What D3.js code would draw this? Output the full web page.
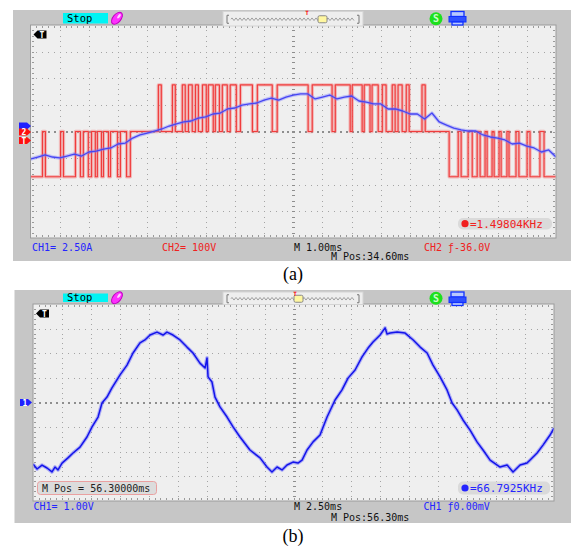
<!DOCTYPE html>
<html>
<head>
<meta charset="utf-8">
<script src="https://cdn.jsdelivr.net/npm/d3@7"></script>
<style>
  body { margin: 0; background: #fff; }
  svg { display: block; }
</style>
</head>
<body>
<script>
// ---------- (a) CH1 current, sampled every 0.25 ms (A) ----------
const aCurT = [0, 0.25, 0.5, 0.75, 1, 1.25, 1.5, 1.75, 2, 2.25, 2.5, 2.75, 3, 3.25, 3.5, 3.75,
  4, 4.25, 4.5, 4.75, 5, 5.25, 5.5, 5.75, 6, 6.25, 6.5, 6.75, 7, 7.25, 7.5, 7.75,
  8, 8.25, 8.5, 8.75, 9, 9.25, 9.5, 9.75, 10, 10.25, 10.5, 10.75, 11, 11.25, 11.5, 11.75,
  12, 12.25, 12.5, 12.75, 13, 13.25, 13.5, 13.75, 14, 14.25, 14.5, 14.75, 15, 15.25, 15.5, 15.75,
  16, 16.25, 16.5, 16.75, 17, 17.25, 17.5, 17.75, 18];
const aCurA = [-2.96, -2.77, -2.58, -2.77, -2.86, -2.68, -2.49, -2.68, -2.30, -2.21, -2.02, -1.92, -1.55, -1.46, -0.99, -0.70,
  -0.52, -0.33, -0.14, 0.14, 0.33, 0.52, 0.61, 0.89, 0.99, 1.27, 1.36, 1.74, 1.83, 2.11, 2.21, 2.30,
  2.58, 2.77, 2.58, 2.86, 3.05, 3.15, 3.15, 2.68, 2.86, 3.05, 2.68, 2.86, 2.96, 2.49, 2.39, 2.21,
  2.21, 1.74, 1.74, 1.55, 1.27, 1.27, 0.80, 1.36, 0.52, 0.23, -0.05, -0.23, -0.33, -0.33, -0.70, -0.89,
  -0.99, -1.17, -1.55, -1.46, -1.74, -1.92, -2.30, -2.11, -2.77];

// ---------- (a) CH2 PWM voltage: switching instants (ms) and level after each (V) ----------
const aVoltT = [0, 0.41, 0.51, 1.03, 1.13, 1.54, 1.71, 1.81, 1.98, 2.09, 2.22, 2.29, 2.43, 2.50, 2.67, 2.74, 2.98, 3.08, 3.29, 3.42,
  4.38, 4.48, 4.86, 4.96, 5.20, 5.30, 5.41, 5.54, 5.65, 5.75, 5.89, 6.02, 6.09, 6.26, 6.33, 6.47, 6.57, 6.74, 6.84, 7.05,
  7.19, 7.60, 7.77, 8.28, 8.45, 9.51, 9.65, 10.33, 10.44, 10.95, 11.02, 11.36, 11.43, 11.63, 11.70, 11.91, 12.05, 12.18,
  12.39, 12.49, 12.59, 12.73, 12.87, 12.97, 13.41, 13.52,
  14.34, 14.65, 14.75, 14.99, 15.13, 15.30, 15.40, 15.57, 15.64, 15.81, 15.88, 16.05, 16.12, 16.32, 16.39, 16.63, 16.73,
  17.01, 17.11, 17.45, 17.59, 18];
const aVoltV = [-170, 0, -170, 0, -170, 0, -170, 0, -170, 0, -170, 0, -170, 0, -170, 0, -170, 0, -170, 0,
  175, 0, 175, 0, 175, 0, 175, 0, 175, 0, 175, 0, 175, 0, 175, 0, 175, 0, 175, 0,
  175, 0, 175, 0, 175, 0, 175, 0, 175, 0, 175, 0, 175, 0, 175, 0, 175, 0,
  175, 0, 175, 0, 175, 0, 175, 0,
  -170, 0, -170, 0, -170, 0, -170, 0, -170, 0, -170, 0, -170, 0, -170, 0, -170,
  0, -170, 0, -170, -170];

// ---------- (b) CH1 voltage (ms, V) ----------
const bT = [0, 0.35, 0.78, 1.21, 1.64, 1.90, 2.16, 2.51, 3.02, 3.46, 4.06, 4.66, 5.10, 5.62, 5.96, 6.39, 6.82, 7.52,
  8.12, 8.64, 9.24, 9.67, 10.11, 10.71, 11.23, 11.57, 12.09, 12.70, 13.30, 13.82, 14.42, 14.86, 15.03, 15.12, 15.46,
  15.72, 16.15, 16.76, 17.28, 17.88, 18.74, 19.61, 20.21, 20.64, 21.08, 21.51, 21.94, 22.46, 22.89, 23.24, 23.67,
  24.19, 24.79, 25.40, 26.09, 26.69, 27.21, 27.82, 28.42, 28.94, 29.37, 29.98, 30.41, 30.58, 30.84, 31.45, 32.14,
  32.84, 33.44, 34.04, 34.55, 35.16, 35.76, 36.20, 36.63, 37.14, 37.75, 38.35, 38.87, 39.48, 40.34, 40.95, 41.46,
  42.07, 42.67, 43.54, 44.05, 44.66, 45.00];
const bV = [-2.50, -2.70, -2.54, -2.66, -2.82, -2.62, -2.74, -2.46, -2.25, -2.05, -1.81, -1.40, -0.99, -0.59, -0.02, 0.22, 0.59, 1.12,
  1.52, 2.01, 2.42, 2.54, 2.74, 2.86, 2.74, 2.86, 2.74, 2.54, 2.25, 2.01, 1.60, 1.40, 1.81, 1.04, 0.83,
  0.22, -0.18, -0.59, -0.99, -1.40, -1.93, -2.25, -2.62, -2.82, -2.62, -2.74, -2.54, -2.42, -2.46, -2.34, -1.93,
  -1.60, -1.32, -0.59, 0.10, 0.51, 0.99, 1.32, 1.85, 2.21, 2.46, 2.74, 3.03, 2.78, 2.82, 2.86, 2.82,
  2.54, 2.25, 2.01, 1.52, 1.04, 0.51, -0.02, -0.30, -0.71, -1.12, -1.60, -1.93, -2.34, -2.62, -2.54, -2.82,
  -2.54, -2.46, -2.05, -1.73, -1.32, -1.04];

const W = 571, H = 546;
const MONO = "'DejaVu Sans Mono', monospace";
const BLUE = '#2424ff', RED = '#f02020';

const svg = d3.select('body').append('svg')
  .attr('width', W)
  .attr('height', H)
  .attr('viewBox', `0 0 ${W} ${H}`);

// screen layout for the two captures
const panelA = {id: 'a', gx: 13, gy: 10, gh: 251, x0: 30.5, x1: 556, y0: 25, y1: 238, hy: 11.5, hh: 14.5, trig: 307, knob: 318};
const panelB = {id: 'b', gx: 14.5, gy: 290, gh: 233, x0: 33, x1: 554, y0: 304, y1: 501, hy: 292, hh: 12.5, trig: 295, knob: 294};

// ************** SCREEN (bezel, grid, header) ******************
const drawScreen = (p) => {
  const g = svg.append('g');
  g.append('rect')
    .attr('x', p.gx).attr('y', p.gy)
    .attr('width', W - p.gx).attr('height', p.gh)
    .attr('fill', '#c6c6c6');

  const xs = d3.scaleLinear().domain([0, 18]).range([p.x0, p.x1]);
  const ys = d3.scaleLinear().domain([-4, 4]).range([p.y1, p.y0]);

  g.append('rect')
    .attr('x', p.x0).attr('y', p.y0)
    .attr('width', p.x1 - p.x0).attr('height', p.y1 - p.y0)
    .attr('fill', '#efefef')
    .attr('stroke', '#9c9c9c');

  const minorX = d3.range(1, 90).map(i => i / 5);
  const minorY = d3.range(1, 40).map(i => i / 5 - 4);

  // dotted grid lines
  let dots = [];
  d3.range(1, 18).filter(i => i !== 9).forEach(i => minorY.forEach(v => dots.push([i, v])));
  d3.range(-3, 4).filter(j => j !== 0).forEach(j => minorX.forEach(u => dots.push([u, j])));
  g.append('g').selectAll('rect').data(dots).join('rect')
    .attr('x', d => Math.round(xs(d[0])))
    .attr('y', d => Math.round(ys(d[1])))
    .attr('width', 1).attr('height', 1)
    .attr('fill', '#a4a4a4');

  // centre cross, heavier ticks
  let cross = minorX.map(u => [u, 0]).concat(minorY.map(v => [9, v]));
  g.append('g').selectAll('rect').data(cross).join('rect')
    .attr('x', d => Math.round(xs(d[0])) - (d[0] === 9 ? 1 : 0))
    .attr('y', d => Math.round(ys(d[1])) - (d[1] === 0 ? 1 : 0))
    .attr('width', d => d[0] === 9 ? 3 : 2)
    .attr('height', d => d[1] === 0 ? 2 : 1)
    .attr('fill', '#8e8e8e');

  // border ticks
  let edge = [];
  minorX.forEach(u => { edge.push([xs(u), p.y0 + 1, 1, 2]); edge.push([xs(u), p.y1 - 3, 1, 2]); });
  minorY.forEach(v => { edge.push([p.x0 + 1, ys(v), 2, 1]); edge.push([p.x1 - 3, ys(v), 2, 1]); });
  g.append('g').selectAll('rect').data(edge).join('rect')
    .attr('x', d => Math.round(d[0])).attr('y', d => Math.round(d[1]))
    .attr('width', d => d[2]).attr('height', d => d[3])
    .attr('fill', '#9a9a9a');

  // header: Stop badge
  g.append('rect')
    .attr('x', 63).attr('y', p.hy + 1.5)
    .attr('width', 45).attr('height', p.hh - 4)
    .attr('fill', '#00f4f4');
  g.append('text')
    .attr('x', 67).attr('y', p.hy + p.hh - 4)
    .attr('font-family', MONO).attr('font-size', 10.5)
    .attr('fill', '#000').text('Stop');
  // pen icon
  g.append('ellipse')
    .attr('cx', 117).attr('cy', p.hy + p.hh / 2 - 0.5)
    .attr('rx', 7).attr('ry', 4)
    .attr('transform', `rotate(-50 117 ${p.hy + p.hh / 2 - 0.5})`)
    .attr('fill', '#ff30ff').attr('stroke', '#c000c0');
  g.append('ellipse')
    .attr('cx', 119).attr('cy', p.hy + p.hh / 2 - 2.5)
    .attr('rx', 2.5).attr('ry', 1.2)
    .attr('transform', `rotate(-50 119 ${p.hy + p.hh / 2 - 2.5})`)
    .attr('fill', '#ffd0ff');

  // timebase strip
  g.append('rect')
    .attr('x', 223).attr('y', p.hy)
    .attr('width', 140).attr('height', p.hh)
    .attr('fill', '#eeeeee').attr('stroke', '#d4d4d4');
  const cy = p.hy + p.hh / 2 + 0.5;
  let wave = `M231,${cy}`;
  for (let x = 231; x < 355; x += 2) wave += `L${x + 1},${cy + ((x - 231) % 4 === 0 ? -1.3 : 1.3)}`;
  g.append('path').attr('d', wave).attr('fill', 'none').attr('stroke', '#8c8c8c').attr('stroke-width', 0.8);
  g.append('path')
    .attr('d', `M229,${cy - 4}h-2v8h2M357,${cy - 4}h2v8h-2`)
    .attr('fill', 'none').attr('stroke', '#777');
  g.append('rect')
    .attr('x', p.knob).attr('y', cy - 3.5)
    .attr('width', 9).attr('height', 7).attr('rx', 1.5)
    .attr('fill', '#fff7a0').attr('stroke', '#888');
  g.append('text')
    .attr('x', p.trig).attr('y', p.hy + 3.5)
    .attr('text-anchor', 'middle')
    .attr('font-family', MONO).attr('font-size', 6).attr('font-weight', 'bold')
    .attr('fill', '#ff0000').text('T');

  // green S and blue printer icons
  g.append('circle')
    .attr('cx', 436).attr('cy', p.hy + p.hh / 2)
    .attr('r', 6.5).attr('fill', '#1ee01e');
  g.append('text')
    .attr('x', 436).attr('y', p.hy + p.hh / 2 + 3.5)
    .attr('text-anchor', 'middle')
    .attr('font-family', MONO).attr('font-size', 10).attr('font-weight', 'bold')
    .attr('fill', '#c8ffc8').text('S');
  g.append('rect').attr('x', 451).attr('y', p.hy).attr('width', 13).attr('height', 5)
    .attr('fill', '#b8c8ff').attr('stroke', '#1030ff').attr('stroke-width', 1.3);
  g.append('rect').attr('x', 449).attr('y', p.hy + 5).attr('width', 17).attr('height', 5.5)
    .attr('fill', '#3050ff').attr('stroke', '#1030ff');
  g.append('rect').attr('x', 452).attr('y', p.hy + 10.5).attr('width', 11).attr('height', 3)
    .attr('fill', '#b8c8ff').attr('stroke', '#1030ff').attr('stroke-width', 1.3);

  // trigger-position flag, top left inside grid
  const ty = p.y0 + 9.5, tx = p.x0 + 3;
  g.append('path')
    .attr('d', `M${tx + 13},${ty - 4}L${tx + 4},${ty - 4}L${tx},${ty}L${tx + 4},${ty + 4}L${tx + 13},${ty + 4}Z`)
    .attr('fill', '#000');
  g.append('text')
    .attr('x', tx + 8.5).attr('y', ty + 3)
    .attr('text-anchor', 'middle')
    .attr('font-family', MONO).attr('font-size', 8).attr('font-weight', 'bold')
    .attr('fill', '#fff').text('T');

  // clip for traces
  svg.append('clipPath').attr('id', 'clip' + p.id)
    .append('rect')
    .attr('x', p.x0 + 0.5).attr('y', p.y0 + 0.5)
    .attr('width', p.x1 - p.x0 - 1).attr('height', p.y1 - p.y0 - 1);
  return g;
};

// channel marker pointing into the grid
const chanMarker = (x, y, fill, label) => {
  svg.append('path')
    .attr('d', `M${x},${y - 3.5}L${x + 8},${y - 3.5}L${x + 12},${y}L${x + 8},${y + 3.5}L${x},${y + 3.5}Z`)
    .attr('fill', fill);
  if (label) {
    svg.append('text')
      .attr('x', x + 5).attr('y', y + 3)
      .attr('text-anchor', 'middle')
      .attr('font-family', MONO).attr('font-size', 8).attr('font-weight', 'bold')
      .attr('fill', '#fff').text(label);
  }
};

// a trace with the soft halo the scope draws
const drawTrace = (p, line, data, col, halo, w) => {
  const g = svg.append('g').attr('clip-path', `url(#clip${p.id})`);
  g.append('path').datum(data).attr('d', line)
    .attr('fill', 'none').attr('stroke', halo).attr('stroke-width', w + 2.2)
    .attr('stroke-linejoin', 'round');
  g.append('path').datum(data).attr('d', line)
    .attr('fill', 'none').attr('stroke', col).attr('stroke-width', w)
    .attr('stroke-linejoin', 'round');
};

const label = (x, y, txt, col, size) => {
  svg.append('text')
    .attr('x', x).attr('y', y)
    .attr('font-family', MONO).attr('font-size', size || 10)
    .attr('fill', col).text(txt);
};

// ************** PANEL (a) ******************
drawScreen(panelA);
{
  const tA = d3.scaleLinear().domain([0, 18]).range([panelA.x0, panelA.x1]);
  const ampA = d3.scaleLinear().domain([-10.375, 9.625]).range([panelA.y1, panelA.y0]);   // 2.50 A/div
  const voltA = d3.scaleLinear().domain([-400, 400]).range([panelA.y1, panelA.y0]);       // 100 V/div

  const pwm = aVoltT.map((t, i) => [t, aVoltV[i]]);
  const redLine = d3.line().curve(d3.curveStepAfter).x(d => tA(d[0])).y(d => voltA(d[1]));
  drawTrace(panelA, redLine, pwm, '#f03c3c', 'rgba(245,120,120,0.45)', 1.2);

  const cur = aCurT.map((t, i) => [t, aCurA[i]]);
  const blueLine = d3.line().x(d => tA(d[0])).y(d => ampA(d[1]));
  drawTrace(panelA, blueLine, cur, '#4646f4', 'rgba(120,120,255,0.4)', 1.3);

  // CH1 flag sits mostly behind the CH2 flag
  chanMarker(19, ampA(0) - 1.5, '#2020ff', null);
  chanMarker(19, voltA(0) + 0.5, '#ff1010', '2');
  chanMarker(19, 140.5, '#ff1010', 'T');
}
// frequency readout
svg.append('rect').attr('x', 458).attr('y', 218).attr('width', 94).attr('height', 11.5).attr('rx', 5)
  .attr('fill', '#dadada');
svg.append('circle').attr('cx', 465).attr('cy', 223.7).attr('r', 3.6).attr('fill', RED);
label(470, 227.8, '=1.49804KHz', RED, 11);

label(32, 250.5, 'CH1= 2.50A', BLUE);
label(162, 250.5, 'CH2= 100V', RED);
label(294, 250.5, 'M 1.00ms', '#111');
label(424, 250.5, 'CH2 \u0192-36.0V', RED);
label(331, 259.8, 'M Pos:34.60ms', '#111');

// ************** PANEL (b) ******************
drawScreen(panelB);
{
  const tB = d3.scaleLinear().domain([0, 45]).range([panelB.x0, panelB.x1]);       // 2.50 ms/div
  const vB = d3.scaleLinear().domain([-4, 4]).range([panelB.y1, panelB.y0]);       // 1.00 V/div

  const sig = bT.map((t, i) => [t, bV[i]]);
  const line = d3.line().x(d => tB(d[0])).y(d => vB(d[1]));
  drawTrace(panelB, line, sig, '#1414ea', 'rgba(80,80,255,0.4)', 1.5);

  chanMarker(20, vB(0), '#2020ff', '1');
}
svg.append('rect').attr('x', 37.5).attr('y', 481.5).attr('width', 119).attr('height', 13).attr('rx', 3)
  .attr('fill', '#dcdcdc').attr('stroke', '#eaa0a0');
label(42, 492, 'M Pos = 56.30000ms', '#222');
svg.append('rect').attr('x', 458).attr('y', 481.5).attr('width', 92).attr('height', 13).attr('rx', 5)
  .attr('fill', '#dadada');
svg.append('circle').attr('cx', 465).attr('cy', 488).attr('r', 3.6).attr('fill', BLUE);
label(470, 492, '=66.7925KHz', BLUE, 11);

label(33.5, 510, 'CH1= 1.00V', BLUE);
label(294, 510, 'M 2.50ms', '#111');
label(423.5, 510, 'CH1 \u01920.00mV', BLUE);
label(331, 521, 'M Pos:56.30ms', '#111');

// ************** CAPTIONS ******************
svg.append('text').attr('x', 293).attr('y', 280).attr('text-anchor', 'middle')
  .attr('font-family', "'Liberation Serif', serif").attr('font-size', 18).text('(a)');
svg.append('text').attr('x', 293).attr('y', 542).attr('text-anchor', 'middle')
  .attr('font-family', "'Liberation Serif', serif").attr('font-size', 18).text('(b)');
</script>
</body>
</html>
